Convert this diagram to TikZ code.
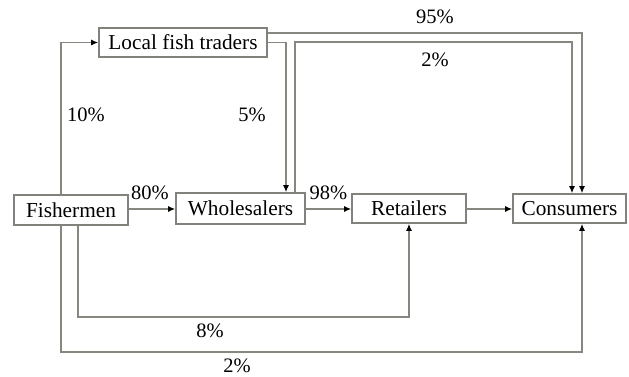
\documentclass[tikz,border=0pt]{standalone}
\usepackage{fontspec}
\setmainfont{Liberation Serif}
\usetikzlibrary{arrows.meta}
\definecolor{lgray}{RGB}{135,135,128}
\definecolor{bgray}{RGB}{130,130,125}
\tikzset{
  box/.style={draw=bgray, line width=1.6pt, fill=white, inner sep=0pt, align=center, font=\fontsize{21.3}{25}\selectfont},
  lbl/.style={inner sep=0pt, font=\fontsize{20.5}{24}\selectfont},
  conn/.style={draw=lgray, line width=1.3pt},
  arr/.style={conn, -{Latex[length=7pt,width=6pt,color=black]}}
}
\begin{document}
\begin{tikzpicture}[x=1pt,y=-1pt]
\useasboundingbox (0,0) rectangle (629,377);
% nodes
\node[box, minimum width=168pt, minimum height=29pt] (L) at (183,42.5) {Local fish traders};
\node[box, minimum width=114pt, minimum height=30pt] (F) at (71,210) {Fishermen};
\node[box, minimum width=129pt, minimum height=31pt] (W) at (240.5,208.5) {Wholesalers};
\node[box, minimum width=114pt, minimum height=29pt] (R) at (409,208.5) {Retailers};
\node[box, minimum width=113pt, minimum height=29pt] (C) at (569.5,208.5) {Consumers};
% helper coordinates
\coordinate (c2) at (572,42);
\coordinate (b1) at (409,317);
\coordinate (b2) at (582,352);
% connectors
\draw[arr] ([xshift=-10pt]F.north) |- (L.west);
\draw[arr] (L.east) -| ([xshift=45.5pt]W.north);
\draw[arr] ([yshift=9.5pt]L.east) -| ([xshift=12.5pt]C.north);
\draw[arr] ([xshift=54.5pt]W.north) |- (c2) -- ([xshift=2.5pt]C.north);
\draw[arr] (F.east |- 0,209) -- (W.west |- 0,209);
\draw[arr] (W.east |- 0,209) -- (R.west |- 0,209);
\draw[arr] (R.east |- 0,209) -- (C.west |- 0,209);
\draw[arr] ([xshift=7pt]F.south) |- (b1) -- (R.south);
\draw[arr] ([xshift=-10pt]F.south) |- (b2) -- ([xshift=12.5pt]C.south);
% labels
\node[lbl] (p10) at (86,115) {10\%};
\node[lbl] (p5) at (252,115) {5\%};
\node[lbl] (p95) at (435,17) {95\%};
\node[lbl] (p2a) at (435,60) {2\%};
\node[lbl] (p80) at (150,193) {80\%};
\node[lbl] (p98) at (328.5,193) {98\%};
\node[lbl] (p8) at (210,331) {8\%};
\node[lbl] (p2b) at (237,366) {2\%};
\end{tikzpicture}
\end{document}
